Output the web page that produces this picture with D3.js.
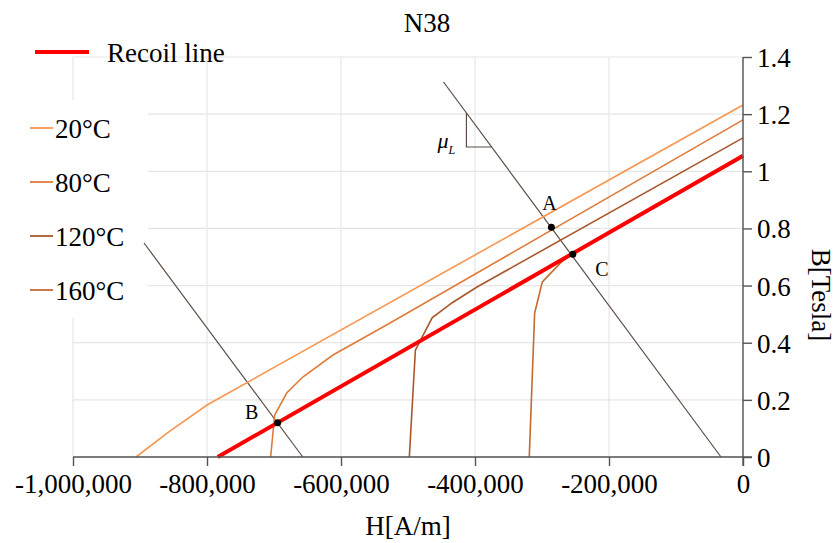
<!DOCTYPE html>
<html>
<head>
<meta charset="utf-8">
<script src="https://cdn.jsdelivr.net/npm/d3@7"></script>
<style>
  body { margin: 0; background: #fff; }
  text { font-family: "Liberation Serif", "Times New Roman", serif; fill: #000; }
</style>
</head>
<body>
<div id="chart"></div>
<script>
// tick values
let hTicks = [-1000000, -800000, -600000, -400000, -200000, 0];
let bTicks = [0, 0.2, 0.4, 0.6, 0.8, 1, 1.2, 1.4];

// demagnetization curves [H, B]
let curve20 = [[-906000, 0], [-857000, 0.088], [-800000, 0.182], [0, 1.232]];
let curve80 = [[-705000, 0], [-699000, 0.147], [-681000, 0.224], [-657000, 0.28], [-612000, 0.357], [-532000, 0.462], [0, 1.18]];
let curve120 = [[-498000, 0], [-489000, 0.374], [-464000, 0.487], [-434000, 0.54], [-397000, 0.595], [0, 1.117]];
let curve160 = [[-319000, 0], [-311000, 0.504], [-299500, 0.613], [-271000, 0.683], [-251000, 0.716], [0, 1.05]];
let recoil = [[-784000, 0], [0, 1.054]];

// load lines
let load1 = [[-447000, 1.3125], [-32800, 0]];
let load2 = [[-894000, 0.749], [-657000, 0]];

// operating points
let points = [
  {name: "A", h: -286000, b: 0.804},
  {name: "B", h: -694500, b: 0.12},
  {name: "C", h: -254000, b: 0.71}
];
let slopeCorner = [-412800, 1.085];

let temps = ["20°C", "80°C", "120°C", "160°C"];
let tempColors = ["#f8964f", "#e07b39", "#a9582c", "#c46a2f"];
let curves = [curve20, curve80, curve120, curve160];

let W = 835, H = 543;
let svg = d3.select("#chart").append("svg")
    .attr("width", W)
    .attr("height", H);

let x = d3.scaleLinear().domain([-1000000, 0]).range([73, 743]);
let y = d3.scaleLinear().domain([0, 1.4]).range([457, 57]);

// gridlines
svg.append("g").selectAll("line").data(bTicks).enter().append("line")
    .attr("x1", x(-1000000)).attr("x2", x(0))
    .attr("y1", d => y(d)).attr("y2", d => y(d))
    .attr("stroke", "#e6e6e6").attr("stroke-width", 1.2);
svg.append("g").selectAll("line").data(hTicks).enter().append("line")
    .attr("x1", d => x(d)).attr("x2", d => x(d))
    .attr("y1", y(1.4)).attr("y2", y(0))
    .attr("stroke", "#e6e6e6").attr("stroke-width", 1.2);

// white legend background
svg.append("rect")
    .attr("x", 0).attr("y", 100).attr("width", 148).attr("height", 218)
    .attr("fill", "#fff");

let line = d3.line().x(d => x(d[0])).y(d => y(d[1]));

// load lines
[load1, load2].forEach(function(d) {
  svg.append("path").datum(d)
      .attr("d", line)
      .attr("fill", "none")
      .attr("stroke", "#5c4c44")
      .attr("stroke-width", 1.2);
});

// slope triangle
let lh = function(b) { return load1[1][0] + (load1[0][0] - load1[1][0]) * b / load1[0][1]; };
let lb = function(h) { return load1[0][1] * (h - load1[1][0]) / (load1[0][0] - load1[1][0]); };
svg.append("path")
    .datum([[slopeCorner[0], lb(slopeCorner[0])], slopeCorner, [lh(slopeCorner[1]), slopeCorner[1]]])
    .attr("d", line)
    .attr("fill", "none")
    .attr("stroke", "#5c4c44")
    .attr("stroke-width", 1.2);
let mu = svg.append("text")
    .attr("x", x(slopeCorner[0]) - 29)
    .attr("y", y(slopeCorner[1]) + 1)
    .style("font-size", "22px")
    .style("font-style", "italic");
mu.append("tspan").text("μ");
mu.append("tspan").attr("dy", 6).style("font-size", "12px").text("L");

// temperature curves
curves.forEach(function(c, i) {
  svg.append("path").datum(c)
      .attr("d", line)
      .attr("fill", "none")
      .attr("stroke", tempColors[i])
      .attr("stroke-width", 1.6);
});

// recoil line
svg.append("path").datum(recoil)
    .attr("d", line)
    .attr("fill", "none")
    .attr("stroke", "#ff0000")
    .attr("stroke-width", 4);

// points
svg.append("g").selectAll("circle").data(points).enter().append("circle")
    .attr("cx", d => x(d.h)).attr("cy", d => y(d.b))
    .attr("r", 3.5).attr("fill", "#000");

let labelOff = {A: [-2, -22], B: [-26, -8], C: [29, 17]};
svg.append("g").selectAll("text").data(points).enter().append("text")
    .attr("x", d => x(d.h) + labelOff[d.name][0])
    .attr("y", d => y(d.b) + labelOff[d.name][1])
    .attr("text-anchor", "middle")
    .attr("dominant-baseline", "middle")
    .style("font-size", "20px")
    .text(d => d.name);

// axes
let fmt = function(d) { return (d < 0 ? "-" : "") + d3.format(",")(Math.abs(d)); };
let xAxis = svg.append("g")
    .attr("transform", `translate(0,${y(0)})`)
    .call(d3.axisBottom(x).tickValues(hTicks).tickFormat(fmt).tickSize(9).tickSizeOuter(0).tickPadding(8));
let yAxis = svg.append("g")
    .attr("transform", `translate(${x(0)},0)`)
    .call(d3.axisRight(y).tickValues(bTicks).tickFormat(d => String(+d.toFixed(1))).tickSize(9).tickSizeOuter(0).tickPadding(5));

[xAxis, yAxis].forEach(function(a) {
  a.attr("font-family", null).attr("font-size", null);
  a.select(".domain").remove();
  a.selectAll(".tick line").attr("stroke", "#555").attr("stroke-width", 1.4);
  a.selectAll(".tick text")
      .style("font-family", "'Liberation Serif', serif")
      .style("font-size", "27px")
      .attr("fill", "#000");
});
yAxis.selectAll(".tick text").attr("dy", "0.35em");
svg.append("line")
    .attr("x1", x(-1000000)).attr("x2", x(0) + 9)
    .attr("y1", y(0)).attr("y2", y(0))
    .attr("stroke", "#555").attr("stroke-width", 1.4);
svg.append("line")
    .attr("x1", x(0)).attr("x2", x(0))
    .attr("y1", y(1.4)).attr("y2", y(0) + 9)
    .attr("stroke", "#555").attr("stroke-width", 1.4);

// titles
svg.append("text")
    .attr("x", 427).attr("y", 32)
    .attr("text-anchor", "middle")
    .style("font-size", "27px")
    .text("N38");
svg.append("text")
    .attr("x", 408).attr("y", 535)
    .attr("text-anchor", "middle")
    .style("font-size", "27px")
    .text("H[A/m]");
svg.append("text")
    .attr("transform", "translate(812,295) rotate(90)")
    .attr("text-anchor", "middle")
    .style("font-size", "27px")
    .text("B[Tesla]");

// legend
svg.append("line")
    .attr("x1", 35).attr("x2", 89).attr("y1", 52).attr("y2", 52)
    .attr("stroke", "#ff0000").attr("stroke-width", 4);
svg.append("text")
    .attr("x", 107).attr("y", 62)
    .style("font-size", "27px")
    .text("Recoil line");

let leg = svg.append("g").selectAll("g").data(temps).enter().append("g")
    .attr("transform", (d, i) => `translate(30,${128 + i * 54})`);
leg.append("line")
    .attr("x1", 0).attr("x2", 23)
    .attr("stroke", (d, i) => tempColors[i])
    .attr("stroke-width", 1.8);
leg.append("text")
    .attr("x", 25).attr("y", 10)
    .style("font-size", "27px")
    .text(d => d);
</script>
</body>
</html>
